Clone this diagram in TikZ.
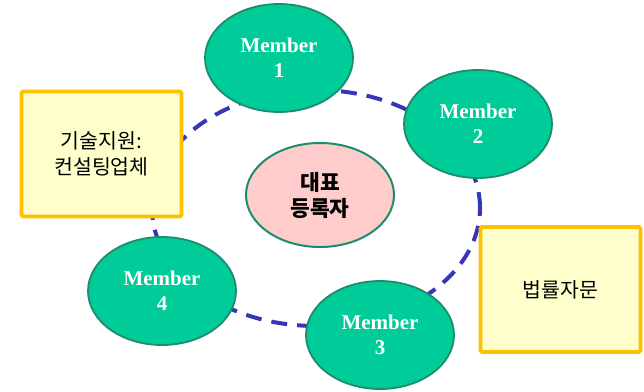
\documentclass[tikz,border=0pt]{standalone}
\usepackage{fontspec}
\setmainfont{Liberation Serif}
\newfontfamily\kr{Noto Sans CJK KR}
\usetikzlibrary{shapes.geometric}
\definecolor{memfill}{HTML}{00CC99}
\definecolor{memdraw}{HTML}{1B8C6C}
\definecolor{pinkfill}{HTML}{FFCCCC}
\definecolor{boxfill}{HTML}{FFFFCC}
\definecolor{boxdraw}{HTML}{FFC000}
\definecolor{ringcol}{HTML}{3636B8}
\tikzset{
  member/.style={ellipse, draw=memdraw, line width=1.8pt, fill=memfill,
    minimum width=148pt, minimum height=108pt, inner sep=0pt, align=center,
    text=white, font=\bfseries\fontsize{21}{25}\selectfont},
  rep/.style={ellipse, draw=memdraw, line width=2pt, fill=pinkfill,
    minimum width=148pt, minimum height=104pt, inner sep=0pt, align=center,
    font=\kr\bfseries\fontsize{21.5}{26}\selectfont},
  infobox/.style={rectangle, rounded corners=1.5pt, draw=boxdraw, line width=3.8pt, fill=boxfill,
    minimum width=160pt, minimum height=125pt, inner sep=0pt, align=center,
    font=\kr\fontsize{20.5}{26}\selectfont},
  ring/.style={draw=ringcol, line width=4pt, dash pattern=on 16pt off 10pt}
}
\begin{document}
\begin{tikzpicture}[x=1pt,y=-1pt]
\useasboundingbox (0,0) rectangle (644,391);
\coordinate (ringc) at (316,208);
\draw[ring] (ringc) ellipse [x radius=164pt, y radius=118pt];
\node[infobox] (tech) at (101.5,154) {기술지원:\\컨설팅업체};
\node[infobox] (law) at (560.5,289.5) {법률자문};
\node[member] (m1) at (279,58) {Member\\1};
\node[member] (m2) at (478,124) {Member\\2};
\node[member] (m3) at (380,335) {Member\\3};
\node[member] (m4) at (162,291) {Member\\4};
\node[rep] (rep) at (320,195) {대표\\등록자};
\end{tikzpicture}
\end{document}
